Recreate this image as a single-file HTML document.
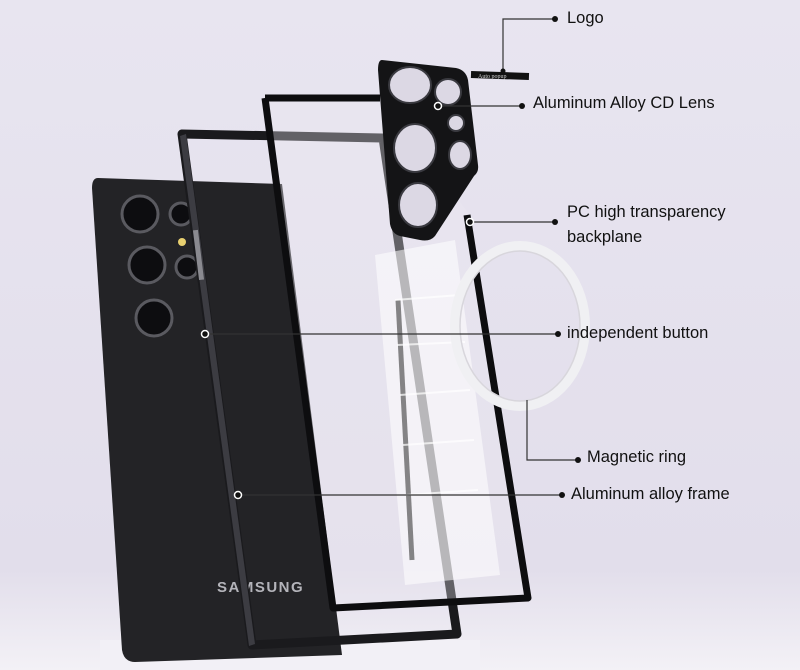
<!DOCTYPE html><html><head><style>
body{margin:0;width:800px;height:670px;overflow:hidden;background:#e6e2ee;font-family:"Liberation Sans",sans-serif}
svg{position:absolute;left:0;top:0}
.l{position:absolute;font-size:16.5px;color:#111;white-space:nowrap}
</style></head><body>
<svg width="800" height="670" viewBox="0 0 800 670">
<defs><linearGradient id="bg" x1="0" y1="0" x2="0" y2="1"><stop offset="0" stop-color="#e8e5f0"/><stop offset="0.85" stop-color="#e2deeb"/><stop offset="1" stop-color="#f3f1f6"/></linearGradient></defs>
<rect width="800" height="670" fill="url(#bg)"/>
<rect x="100" y="640" width="380" height="30" fill="#f2f0f6"/>
<!-- phone body -->
<path d="M98,178 L282,184 L342,655 L135,662 Q124,662 122,650 L92,188 Q92,178 98,178Z" fill="#232326"/>
<g fill="#0d0d10" stroke="#5a5a60" stroke-width="3">
<circle cx="140" cy="214" r="18"/><circle cx="147" cy="265" r="18"/><circle cx="154" cy="318" r="18"/>
<circle cx="181" cy="214" r="11"/><circle cx="187" cy="267" r="11"/></g>
<circle cx="182" cy="242" r="4" fill="#e8d070"/>
<text x="217" y="592" font-family="Liberation Sans" font-weight="bold" font-size="15" fill="#b4b4ba" letter-spacing="1.5">SAMSUNG</text>
<!-- aluminum frame -->
<path d="M182,134 L383,138 L457,634 L252,645 Z" fill="none" stroke="#1a1a1d" stroke-width="9" stroke-linejoin="round"/>
<path d="M180,136 L186,134 L255,644 L249,646Z" fill="#3c3c42"/>
<rect x="196" y="230" width="5" height="50" fill="#8a8a90" transform="rotate(-7 198 255)"/>
<!-- backplane -->
<path d="M265,98 L380,98 L470,215 L528,598 L333,608 Z" fill="#ece9f2" opacity="0.35"/>
<g fill="#ffffff" opacity="0.55"><path d="M375,255 L455,240 L500,575 L405,585Z"/></g>
<g stroke="#555" stroke-width="5" opacity="0.7"><path d="M398,300 L412,560"/></g>
<g stroke="#fff" stroke-width="2" opacity="0.7" fill="none"><path d="M395,300 L460,295 M397,345 L465,342 M400,395 L470,390 M403,445 L474,440 M406,495 L478,490"/></g>
<path d="M265,98 L380,98 M467,215 L528,598 L333,608 L265,98" fill="none" stroke="#0d0d0f" stroke-width="7" stroke-linejoin="round"/>
<!-- magnetic ring -->
<ellipse cx="520" cy="326" rx="65" ry="80" fill="none" stroke="#f0f0f3" stroke-width="10"/>
<ellipse cx="520" cy="326" rx="60" ry="75" fill="none" stroke="#d8d6dc" stroke-width="1.5"/>
<!-- lens plate -->
<path d="M382,60 L456,68 Q466,70 468,80 L478,165 Q479,172 474,176 L435,236 Q430,242 420,240 L400,236 Q392,234 390,224 L378,70 Q378,60 382,60Z" fill="#141416"/>
<g fill="#dcd8e4" stroke="#3a3a40" stroke-width="2">
<ellipse cx="410" cy="85" rx="21" ry="18"/><ellipse cx="448" cy="92" rx="13" ry="13"/>
<ellipse cx="415" cy="148" rx="21" ry="24"/><ellipse cx="456" cy="123" rx="8" ry="8"/><ellipse cx="460" cy="155" rx="11" ry="14"/>
<ellipse cx="418" cy="205" rx="19" ry="22"/></g>
<rect x="471" y="72" width="58" height="7" fill="#111" transform="rotate(2 500 75)"/>
<text x="478" y="78" font-size="6" fill="#ccc" font-family="Liberation Serif">Auto popup</text>
<!-- leaders -->
<g stroke="#333" stroke-width="1.2" fill="none">
<path d="M555,19 L503,19 L503,71"/><path d="M438,106 L522,106"/><path d="M470,222 L555,222"/>
<path d="M205,334 L558,334"/><path d="M527,400 L527,460 L578,460"/><path d="M238,495 L562,495"/></g>
<g fill="#111"><circle cx="555" cy="19" r="3"/><circle cx="503" cy="71" r="2.5"/><circle cx="522" cy="106" r="3"/><circle cx="555" cy="222" r="3"/><circle cx="558" cy="334" r="3"/><circle cx="578" cy="460" r="3"/><circle cx="562" cy="495" r="3"/></g>
<g fill="#111" stroke="#fff" stroke-width="1.5"><circle cx="438" cy="106" r="3.5"/><circle cx="470" cy="222" r="3.5"/><circle cx="205" cy="334" r="3.5"/><circle cx="238" cy="495" r="3.5"/></g>
</svg>
<div class="l" style="left:567px;top:9px">Logo</div>
<div class="l" style="left:533px;top:94px">Aluminum Alloy CD Lens</div>
<div class="l" style="left:567px;top:200px;line-height:25px">PC high transparency<br>backplane</div>
<div class="l" style="left:567px;top:324px">independent button</div>
<div class="l" style="left:587px;top:448px">Magnetic ring</div>
<div class="l" style="left:571px;top:485px">Aluminum alloy frame</div>
</body></html>
